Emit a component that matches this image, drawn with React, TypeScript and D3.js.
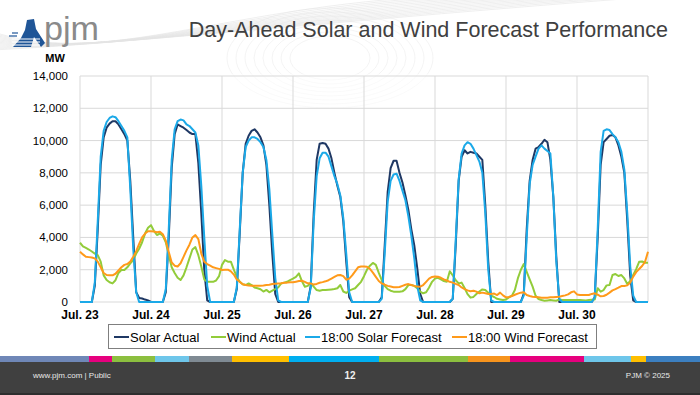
import React from "react";
import * as d3 from "d3";

// hourly values, Jul 23 00:00 .. Jul 31 00:00 (MW)
const solarActual = [
  0, 0, 0, 0, 0, 1000, 4500, 8500, 10200, 10800, 11050, 11200, 11200, 11000, 10700, 10400, 10000, 7500, 4000, 600, 250, 220, 150, 100,
  0, 0, 0, 0, 0, 600, 4000, 8300, 10400, 11000, 10900, 10800, 10650, 10500, 10400, 10400, 8600, 5500, 2000, 100, 0, 0, 0, 0,
  0, 0, 0, 0, 0, 800, 4300, 8000, 9800, 10300, 10600, 10700, 10500, 10200, 9700, 8500, 6000, 3000, 500, 0, 0, 0, 0, 0,
  0, 0, 0, 0, 0, 0, 1000, 5500, 8800, 9800, 9850, 9800, 9500, 8900, 8000, 7200, 6500, 5000, 2500, 300, 0, 0, 0, 0,
  0, 0, 0, 0, 0, 0, 300, 3500, 6800, 8300, 8750, 8750, 8000, 7400, 6600, 5700, 4500, 3500, 2100, 500, 0, 0, 0, 0,
  0, 0, 0, 0, 0, 0, 200, 3500, 7500, 9000, 9400, 9200, 9300, 9250, 9200, 9000, 8800, 6000, 2500, 0, 0, 0, 0, 0,
  0, 0, 0, 0, 0, 0, 500, 4500, 7500, 8800, 9500, 9600, 9800, 10050, 9900, 8800, 6500, 2800, 0, 0, 0, 0, 0, 0,
  0, 0, 0, 0, 0, 0, 300, 4000, 8500, 9900, 10100, 10300, 10350, 10200, 9700, 9000, 8000, 5000, 1600, 100, 0, 0, 0, 0,
  0,
];

const windActual = [
  3670, 3450, 3350, 3250, 3130, 3000, 2900, 2500, 1650, 1360, 1220, 1150, 1350, 1800, 1980, 1980, 2150, 2390, 2600, 3000, 3300, 3700, 4240, 4600,
  4760, 4400, 4150, 4240, 4100, 3700, 2900, 2150, 1800, 1500, 1360, 1650, 2150, 2700, 3250, 3400, 2900, 2200, 1400, 1250, 1250, 1250, 1330, 1600,
  2300, 2600, 2500, 2500, 2000, 1550, 1250, 1100, 1050, 1150, 1050, 900, 850, 790, 650, 750, 600, 700, 800, 900, 1150, 1200, 1250, 1360,
  1450, 1550, 1770, 1300, 950, 1000, 1200, 950, 740, 700, 740, 740, 760, 780, 800, 850, 1050, 650, 560, 700, 780, 850, 1050, 1250,
  1600, 2000, 2250, 2420, 2300, 1800, 1350, 1000, 800, 700, 640, 640, 640, 660, 800, 1050, 1050, 1000, 850, 640, 540, 600, 900, 1250,
  1450, 1500, 1400, 1300, 1250, 1900, 1650, 1350, 1150, 1200, 870, 490, 270, 315, 500, 650, 780, 740, 580, 390, 310, 200, 160, 120,
  160, 290, 390, 740, 1460, 1980, 2350, 1870, 1400, 950, 390, 185, 120, 80, 100, 120, 100, 80, 160, 120, 120, 120, 120, 120,
  120, 120, 110, 100, 120, 140, 160, 850, 640, 740, 1030, 1050, 1670, 1730, 1610, 1670, 1460, 1110, 1300, 1670, 2040, 2490, 2510, 2430,
  2430,
];

const solarForecast = [
  0, 0, 0, 0, 0, 1200, 5000, 9000, 10600, 11150, 11400, 11500, 11450, 11200, 10900, 10600, 10200, 7000, 3300, 600, 0, 0, 0, 0,
  0, 0, 0, 0, 0, 800, 4500, 8800, 10700, 11200, 11300, 11250, 11000, 10900, 10700, 10500, 9700, 7200, 4000, 1000, 0, 0, 0, 0,
  0, 0, 0, 0, 0, 900, 4500, 8000, 9600, 10000, 10200, 10200, 10100, 9900, 9600, 8800, 7000, 4200, 1500, 100, 0, 0, 0, 0,
  0, 0, 0, 0, 0, 0, 900, 5000, 7800, 8900, 9250, 9250, 9000, 8400, 7800, 7300, 6600, 5200, 3000, 600, 0, 0, 0, 0,
  0, 0, 0, 0, 0, 0, 200, 3000, 6200, 7500, 7900, 7950, 7500, 6900, 6300, 5300, 4100, 2700, 1000, 100, 0, 0, 0, 0,
  0, 0, 0, 0, 0, 0, 200, 3800, 7600, 9200, 9700, 9900, 9800, 9500, 9100, 8700, 8000, 5500, 2000, 100, 0, 0, 0, 0,
  0, 0, 0, 0, 0, 0, 400, 4000, 7300, 8500, 9000, 9500, 9700, 9500, 9350, 9200, 6500, 2500, 200, 0, 0, 0, 0, 0,
  0, 0, 0, 0, 0, 0, 300, 4500, 9300, 10600, 10700, 10650, 10400, 10200, 9900, 9300, 8200, 5500, 2200, 400, 0, 0, 0, 0,
  0,
];

const windForecast = [
  3110, 2950, 2800, 2780, 2760, 2700, 2500, 2150, 1800, 1670, 1650, 1650, 1750, 1950, 2150, 2300, 2350, 2500, 2800, 3150, 3600, 4000, 4240, 4380,
  4390, 4370, 4320, 4350, 4200, 3800, 3100, 2450, 2250, 2200, 2400, 2800, 3200, 3550, 4000, 4140, 3900, 3000, 2500, 2350, 2250, 2150, 2100, 2050,
  1980, 2000, 2000, 1900, 1700, 1400, 1250, 1100, 1050, 1020, 1000, 1000, 1000, 1000, 1020, 1050, 1070, 1110, 1130, 1150, 1160, 1190, 1200, 1230,
  1220, 1260, 1300, 1320, 1250, 1160, 1150, 1080, 1120, 1190, 1230, 1280, 1350, 1450, 1550, 1650, 1670, 1600, 1380, 1450, 1650, 1900, 2150, 2200,
  2200, 2180, 2050, 1820, 1560, 1300, 1150, 1070, 1000, 960, 920, 910, 930, 1000, 1070, 1110, 1050, 1000, 960, 950, 1050, 1250, 1450, 1550,
  1580, 1560, 1500, 1400, 1330, 1250, 1200, 1120, 1050, 900, 800, 720, 670, 700, 640, 540, 580, 540, 500, 500, 520, 430, 580, 410,
  290, 310, 370, 450, 520, 580, 600, 430, 370, 330, 310, 290, 270, 270, 270, 290, 290, 310, 330, 370, 410, 470, 600, 660,
  470, 430, 430, 430, 430, 500, 540, 450, 350, 370, 450, 580, 720, 800, 890, 990, 990, 1030, 1200, 1570, 1850, 2040, 2230, 2490,
  3110,
];

const dayLabels = ["Jul. 23", "Jul. 24", "Jul. 25", "Jul. 26", "Jul. 27", "Jul. 28", "Jul. 29", "Jul. 30"];

const seriesNames = ["Solar Actual", "Wind Actual", "18:00 Solar Forecast", "18:00 Wind Forecast"];
const seriesColors = ["#1f3864", "#92cc3a", "#1ba9e8", "#ff9a1a"];
const seriesData = [solarActual, windActual, solarForecast, windForecast];

// footer colour band
const bandStops = [0, 89, 112, 155, 189, 232, 289, 379, 468, 510, 584, 631, 646, 700];
const bandColors = ["#6f87b7", "#e6007e", "#8cbf3f", "#6ec6ea", "#7f8a93", "#ffbf00", "#00aeef", "#8cbf3f", "#f7941d", "#e6007e", "#6ec6ea", "#ffbf00", "#3c7fc0"];

const W = 700;
const H = 395;
const m = { left: 80, right: 648, top: 76, bottom: 302 };
const font = "'Liberation Sans', Arial, sans-serif";

export default function App() {
  const x = d3.scaleLinear().domain([0, 192]).range([m.left, m.right]);
  const y = d3.scaleLinear().domain([0, 14000]).range([m.bottom, m.top]);
  const line = d3
    .line<number>()
    .x((_, i) => x(i))
    .y((d) => y(d));
  const yTicks = y.ticks(7);
  const dayTicks = d3.range(0, 192, 24);
  const fmt = d3.format(",");

  // decorative swoosh lines in the header
  const swoosh = d3.range(14).map((k) => {
    const p = d3.path();
    p.moveTo(0, 34 + k * 1.2);
    p.bezierCurveTo(120, 70 - k * 2, 260 + k * 10, -10 + k * 2, 520 + k * 12, -5);
    return p.toString();
  });
  const rings = d3.range(8).map((k) => ({ rx: 40 + k * 9, ry: 22 + k * 4 }));

  // legend layout (start of each swatch)
  const legendX = [114, 211, 305, 452];

  return (
    <svg width={W} height={H} style={{ position: "absolute", left: 0, top: 0, background: "#fff" }} fontFamily={font}>
      <g fill="none" stroke="#e4e4e4" strokeWidth={0.6}>
        {swoosh.map((d, i) => (
          <path key={i} d={d} />
        ))}
        {rings.map((r, i) => (
          <ellipse key={i} cx={330} cy={58} rx={r.rx} ry={r.ry} strokeOpacity={0.7} />
        ))}
      </g>
      <rect x={m.left - 2} y={m.top - 2} width={m.right - m.left + 4} height={m.bottom - m.top + 4} fill="#fff" opacity={0.55} />

      {/* logo */}
      <g>
        <path d="M27 20 L34 19 L36 29 L45 43 L41 47 L34 37 L31 47 L13 47 L21 38 L25 30 Z" fill="#1f5597" />
        <g stroke="#fff" strokeWidth={1}>
          <line x1={12} x2={40} y1={39} y2={39} />
          <line x1={12} x2={40} y1={42} y2={42} />
          <line x1={12} x2={40} y1={45} y2={45} />
        </g>
        <g stroke="#1f5597" strokeWidth={1.2}>
          <line x1={12} x2={18} y1={33} y2={33} />
          <line x1={9} x2={17} y1={36} y2={36} />
        </g>
        <text x={44} y={40} fontSize={34} fill="#8a8a8a" textLength={55} lengthAdjust="spacingAndGlyphs">
          pjm
        </text>
      </g>
      <text x={55} y={62} fontSize={11} fontWeight="bold" textAnchor="middle" fill="#000">
        MW
      </text>

      <text x={668} y={37} fontSize={21.5} textAnchor="end" fill="#404040">
        Day-Ahead Solar and Wind Forecast Performance
      </text>

      {/* grid */}
      <g stroke="#d9d9d9" strokeWidth={1}>
        {yTicks.map((t) => (
          <line key={t} x1={m.left} x2={m.right} y1={y(t)} y2={y(t)} />
        ))}
        {dayTicks.concat([192]).map((t) => (
          <line key={t} x1={x(t)} x2={x(t)} y1={m.top} y2={m.bottom} />
        ))}
      </g>

      {/* y axis labels */}
      <g fontSize={11.5} fill="#000" textAnchor="end">
        {yTicks.map((t) => (
          <text key={t} x={68} y={y(t) + 4}>
            {fmt(t)}
          </text>
        ))}
      </g>

      {/* x axis labels */}
      <g fontSize={12} fontWeight="bold" fill="#000" textAnchor="middle">
        {dayTicks.map((t, i) => (
          <text key={t} x={x(t)} y={319}>
            {dayLabels[i]}
          </text>
        ))}
      </g>

      {/* series */}
      <g fill="none" strokeWidth={2} strokeLinejoin="round">
        {seriesData.map((s, i) => (
          <path key={seriesNames[i]} d={line(s) || ""} stroke={seriesColors[i]} />
        ))}
      </g>

      {/* legend */}
      <rect x={108.5} y={324.5} width={488} height={24} fill="#fff" stroke="#7f7f7f" strokeWidth={1} />
      <g fontSize={13} fill="#000">
        {seriesNames.map((n, i) => (
          <g key={n}>
            <line x1={legendX[i]} x2={legendX[i] + 15} y1={337} y2={337} stroke={seriesColors[i]} strokeWidth={2} />
            <text x={legendX[i] + 16} y={341.5}>
              {n}
            </text>
          </g>
        ))}
      </g>

      {/* footer */}
      {bandColors.map((c, i) => (
        <rect key={i} x={bandStops[i]} y={356} width={bandStops[i + 1] - bandStops[i]} height={6} fill={c} />
      ))}
      <rect x={0} y={362} width={W} height={33} fill="#404040" />
      <rect x={0} y={393} width={W} height={2} fill="#2e2e2e" />
      <text x={33} y={378} fontSize={8} fill="#e8e8e8">
        www.pjm.com | Public
      </text>
      <text x={350} y={379} fontSize={10} fontWeight="bold" fill="#f0f0f0" textAnchor="middle">
        12
      </text>
      <text x={670} y={378} fontSize={8} fill="#e8e8e8" textAnchor="end">
        PJM © 2025
      </text>
    </svg>
  );
}
